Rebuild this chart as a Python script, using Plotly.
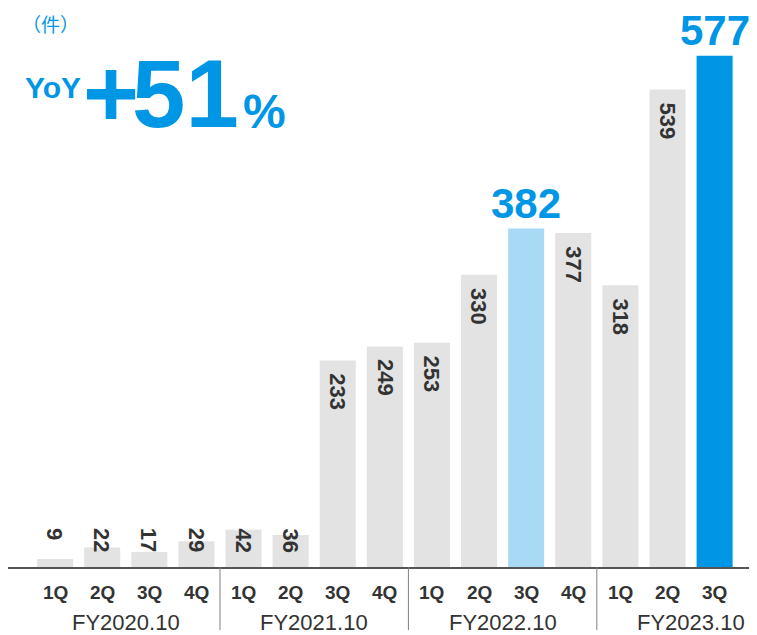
import plotly.graph_objects as go

# ---- data ----
quarters = ["1Q", "2Q", "3Q", "4Q", "1Q", "2Q", "3Q", "4Q", "1Q", "2Q", "3Q", "4Q", "1Q", "2Q", "3Q"]
fiscal_years = ["FY2020.10", "FY2021.10", "FY2022.10", "FY2023.10"]
fy_of_bar = [0, 0, 0, 0, 1, 1, 1, 1, 2, 2, 2, 2, 3, 3, 3]
counts = [9, 22, 17, 29, 42, 36, 233, 249, 253, 330, 382, 377, 318, 539, 577]
unit_label = "（件）"
yoy_label = "YoY"
yoy_sign = "+"
yoy_number = "51"
yoy_unit = "%"

# ---- style ----
GRAY = "#e3e3e3"
LIGHT = "#a8daf5"
BLUE = "#0096e6"
DARK = "#333333"
FONT = "Arial, Liberation Sans, sans-serif"
prev_idx = 10   # same quarter last year
cur_idx = 14    # current quarter
SMALL_FLOOR = 45

x = list(range(len(counts)))
colors = [GRAY] * len(counts)
colors[prev_idx] = LIGHT
colors[cur_idx] = BLUE

fig = go.Figure(go.Bar(x=x, y=counts, marker=dict(color=colors, line=dict(width=0)),
                       width=0.765, hoverinfo="skip"))

ann = []
shapes = []
for i, v in enumerate(counts):
    if i in (prev_idx, cur_idx):
        ann.append(dict(x=i, y=v, xref="x", yref="y", text=f"<b>{v}</b>", showarrow=False,
                        xanchor="center", yanchor="bottom", yshift=0,
                        font=dict(family=FONT, size=42, color=BLUE)))
    else:
        big = v >= 50
        ann.append(dict(x=i, y=v if big else SMALL_FLOOR, xref="x", yref="y",
                        text=f"<b>{v}</b>", showarrow=False, textangle=90,
                        xanchor="center", yanchor="top", yshift=-11 if big else 1,
                        font=dict(family=FONT, size=22, color=DARK)))
    ann.append(dict(x=i, y=0, xref="x", yref="paper", text=f"<b>{quarters[i]}</b>",
                    showarrow=False, xanchor="center", yanchor="top", yshift=-13,
                    font=dict(family=FONT, size=19, color=DARK)))

for g, name in enumerate(fiscal_years):
    idx = [i for i, f in enumerate(fy_of_bar) if f == g]
    ann.append(dict(x=idx[0] + 1.5, y=0, xref="x", yref="paper", text=name,
                    showarrow=False, xanchor="center", yanchor="top", yshift=-41,
                    font=dict(family=FONT, size=22, color=DARK)))
    if g > 0:
        sx = idx[0] - 0.5
        shapes.append(dict(type="line", xref="x", yref="paper", x0=sx, x1=sx, y0=0, y1=-0.1127,
                           line=dict(color="#808080", width=1)))

# headline texts
ann += [
    dict(x=0.0567, y=0.9715, xref="paper", yref="paper", text=unit_label, showarrow=False,
         xanchor="center", yanchor="middle",
         font=dict(family="Noto Sans CJK JP, " + FONT, size=19, color=BLUE)),
    dict(x=0.0607, y=0.8578, xref="paper", yref="paper", text=f"<b>{yoy_label}</b>", showarrow=False,
         xanchor="center", yanchor="middle", font=dict(family=FONT, size=30, color=BLUE)),
    dict(x=0.1375, y=0.8462, xref="paper", yref="paper", text=f"<b>{yoy_sign}</b>", showarrow=False,
         xanchor="center", yanchor="middle", font=dict(family=FONT, size=96, color=BLUE)),
    dict(x=0.2370, y=0.8462, xref="paper", yref="paper", text=f"<b>{yoy_number}</b>", showarrow=False,
         xanchor="center", yanchor="middle", font=dict(family=FONT, size=96, color=BLUE)),
    dict(x=0.3425, y=0.8157, xref="paper", yref="paper", text=f"<b>{yoy_unit}</b>", showarrow=False,
         xanchor="center", yanchor="middle", font=dict(family=FONT, size=48, color=BLUE)),
]

fig.update_layout(
    width=749, height=627,
    margin=dict(l=0, r=0, t=0, b=68),
    plot_bgcolor="white", paper_bgcolor="white",
    showlegend=False,
    xaxis=dict(range=[-1, 14.9], showgrid=False, zeroline=False, showticklabels=False,
               ticks="", showline=True, linecolor="#555555", linewidth=1.5, fixedrange=True),
    yaxis=dict(range=[0, 631], visible=False, fixedrange=True),
    annotations=ann,
    shapes=shapes,
)

fig.write_html("out.html")
